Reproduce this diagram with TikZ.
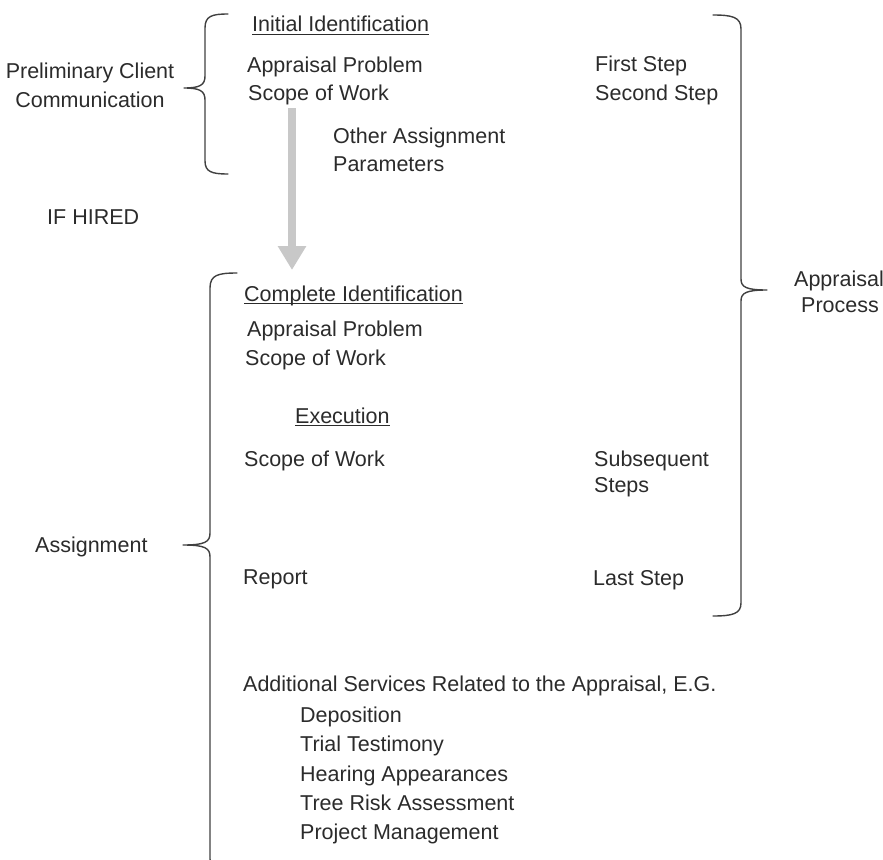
\documentclass[tikz,border=0pt]{standalone}
\usepackage{fontspec}
\setmainfont{Liberation Sans}
\usetikzlibrary{arrows.meta}
\definecolor{txt}{HTML}{2B2B2B}
\definecolor{brc}{HTML}{404040}
\definecolor{arr}{HTML}{C8C8C8}
\begin{document}
\begin{tikzpicture}[x=1pt,y=-1pt,
  lbl/.style={inner sep=0pt,anchor=base west,text=txt,font=\fontsize{21.5}{25}\selectfont},
  clbl/.style={lbl,anchor=base},
  brace/.style={draw=brc,line width=1.4pt,line cap=round,line join=round},
  uline/.style={draw=txt,line width=1.1pt},
  bigarrow/.style={draw=arr,line width=8pt,-{Triangle[width=27pt,length=24pt]}}]
\useasboundingbox (0,0) rectangle (883,859);
\clip (0,0) rectangle (883,859);
% left column
\node[clbl] (prelimA) at (90,78) {Preliminary Client};
\node[clbl] (prelimB) at (90,107) {Communication};
\node[lbl] (ifhired) at (47,224) {IF HIRED};
\node[lbl] (assign) at (35,552) {Assignment};
% upper block
\node[lbl] (init) at (252,32) {Initial Identification};
\node[lbl] (apA) at (247,72) {Appraisal Problem};
\node[lbl] (swA) at (248,100) {Scope of Work};
\node[lbl] (other) at (333,143) {Other Assignment};
\node[lbl] (param) at (333,171) {Parameters};
\node[lbl] (first) at (595,71) {First Step};
\node[lbl] (second) at (595,100) {Second Step};
% lower block
\node[lbl] (compl) at (244,301) {Complete Identification};
\node[lbl] (apB) at (247,336) {Appraisal Problem};
\node[lbl] (swB) at (245,365) {Scope of Work};
\node[lbl] (exec) at (295,423) {Execution};
\node[lbl] (swC) at (244,466) {Scope of Work};
\node[lbl] (subs) at (594,466) {Subsequent};
\node[lbl] (steps) at (594,492) {Steps};
\node[lbl] (report) at (243,584) {Report};
\node[lbl] (last) at (593,585) {Last Step};
\node[lbl] (addl) at (243,691) {Additional Services Related to the Appraisal, E.G.};
\node[lbl] (depo) at (300,722) {Deposition};
\node[lbl] (trial) at (300,751) {Trial Testimony};
\node[lbl] (hear) at (300,781) {Hearing Appearances};
\node[lbl] (tree) at (300,810) {Tree Risk Assessment};
\node[lbl] (proj) at (300,839) {Project Management};
% right label
\node[clbl] (apprA) at (839,286) {Appraisal};
\node[clbl] (apprB) at (840,312) {Process};
% underlines
\draw[uline] ([yshift=-2.5pt]init.base west) -- ([yshift=-2.5pt]init.base east);
\draw[uline] ([yshift=-2.5pt]compl.base west) -- ([yshift=-2.5pt]compl.base east);
\draw[uline] ([yshift=-2.5pt]exec.base west) -- ([yshift=-2.5pt]exec.base east);
% braces
\draw[brace] (228,14) .. controls (212,14) and (205,16) .. (205,28) -- (205,76)
  .. controls (205,85) and (200,88) .. (184,88)
  .. controls (200,88) and (205,91) .. (205,100) -- (205,161)
  .. controls (205,172) and (212,174) .. (228,174);
\draw[brace] (237,273) .. controls (218,273) and (210,275) .. (210,288) -- (210,533)
  .. controls (210,542) and (205,545) .. (183,545)
  .. controls (205,545) and (210,548) .. (210,557) -- (210,859)
  .. controls (210,866) and (218,868) .. (237,868);
\draw[brace] (713,15) .. controls (732,15) and (741,17) .. (741,29) -- (741,279)
  .. controls (741,287) and (746,290) .. (767,290)
  .. controls (746,290) and (741,293) .. (741,301) -- (741,603)
  .. controls (741,614) and (732,616) .. (713,616);
% arrow
\coordinate (arrS) at (292,108);
\coordinate (arrE) at (292,270);
\draw[bigarrow] (arrS) -- (arrE);
\end{tikzpicture}
\end{document}
